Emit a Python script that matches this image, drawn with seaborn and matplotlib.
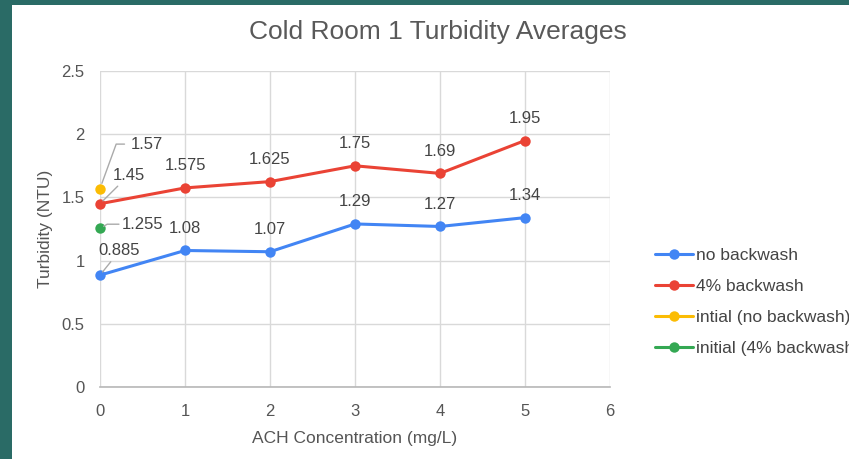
import matplotlib
matplotlib.use("Agg")
import matplotlib.pyplot as plt
import seaborn as sns
import pandas as pd
from matplotlib.patches import Rectangle
from matplotlib.lines import Line2D

conc = [0, 1, 2, 3, 4, 5]
no_backwash = [0.885, 1.08, 1.07, 1.29, 1.27, 1.34]
backwash_4 = [1.45, 1.575, 1.625, 1.75, 1.69, 1.95]
initial_no_x = [0]
initial_no = [1.57]
initial_4_x = [0]
initial_4 = [1.255]
series_names = ["no backwash", "4% backwash", "intial (no backwash)", "initial (4% backwash)"]
colors = ["#4285F4", "#EA4335", "#FBBC04", "#34A853"]

frames = [
    pd.DataFrame({"x": conc, "y": no_backwash, "s": series_names[0]}),
    pd.DataFrame({"x": conc, "y": backwash_4, "s": series_names[1]}),
    pd.DataFrame({"x": initial_no_x, "y": initial_no, "s": series_names[2]}),
    pd.DataFrame({"x": initial_4_x, "y": initial_4, "s": series_names[3]}),
]
df = pd.concat(frames, ignore_index=True)

sns.set_theme(style="white")
plt.rcParams["font.family"] = ["Liberation Sans", "DejaVu Sans"]

fig = plt.figure(figsize=(8.49, 4.59), dpi=100)
fig.patch.set_facecolor("#2a6b66")
fig.patches.append(Rectangle((12 / 849, 0), 1, (459 - 5) / 459, transform=fig.transFigure,
                             facecolor="white", edgecolor="none", zorder=-10))
ax = fig.add_axes([100 / 849, (459 - 387) / 459, 510 / 849, 316 / 459])
ax.set_zorder(1)
ax.set_facecolor("white")

palette = dict(zip(series_names, colors))
sns.lineplot(data=df, x="x", y="y", hue="s", palette=palette, marker="o", markersize=7.5,
             markeredgewidth=0, linewidth=2.2, ax=ax, legend=False, zorder=3, clip_on=False)

ax.set_xlim(0, 6)
ax.set_ylim(0, 2.5)
ax.set_xticks(range(0, 7))
ax.set_yticks([0, 0.5, 1, 1.5, 2, 2.5])
ax.set_yticklabels(["0", "0.5", "1", "1.5", "2", "2.5"])
ax.grid(True, color="#d9d9d9", linewidth=1)
ax.set_axisbelow(True)
for s in ["top", "right", "left"]:
    ax.spines[s].set_visible(False)
ax.spines["bottom"].set_color("#b7b7b7")
ax.spines["bottom"].set_linewidth(1.2)
ax.tick_params(axis="both", length=0, labelsize=12, labelcolor="#555555")
ax.tick_params(axis="x", pad=12)
ax.tick_params(axis="y", pad=11)
ax.set_xlabel("ACH Concentration (mg/L)", fontsize=12.5, color="#555555", labelpad=9)
ax.set_ylabel("Turbidity (NTU)", fontsize=12.5, color="#555555", labelpad=6)
fig.text(438 / 849, 1 - 32 / 459, "Cold Room 1 Turbidity Averages", ha="center", va="center",
         fontsize=19, color="#595959")

lab_kw = dict(fontsize=12, color="#444444", ha="center", va="bottom", zorder=5)
for xv, yv in zip(conc[1:], no_backwash[1:]):
    ax.annotate(f"{yv:g}", (xv, yv), xytext=(0, 10.5), textcoords="offset points", **lab_kw)
for xv, yv in zip(conc[1:], backwash_4[1:]):
    ax.annotate(f"{yv:g}", (xv, yv), xytext=(0, 10.5), textcoords="offset points", **lab_kw)

arrow = dict(arrowstyle="-", color="#aaaaaa", lw=1, shrinkA=0, shrinkB=3)
# callouts at x=0
ax.annotate(f"{no_backwash[0]:g}", (conc[0], no_backwash[0]), xytext=(14, 12),
            textcoords="offset points", fontsize=12, color="#444444", ha="center", va="bottom",
            arrowprops=arrow, zorder=5)
ax.annotate(f"{initial_4[0]:g}", (initial_4_x[0], initial_4[0]), xytext=(16, 3),
            textcoords="offset points", fontsize=12, color="#444444", ha="left", va="center",
            arrowprops=dict(arrowstyle="-", color="#aaaaaa", lw=1, shrinkA=0, shrinkB=3,
                            connectionstyle="angle,angleA=0,angleB=30,rad=0"), zorder=5)
ax.annotate(f"{backwash_4[0]:g}", (conc[0], backwash_4[0]), xytext=(9, 15),
            textcoords="offset points", fontsize=12, color="#444444", ha="left", va="bottom",
            arrowprops=arrow, zorder=5)
ax.annotate(f"{initial_no[0]:g}", (initial_no_x[0], initial_no[0]), xytext=(22, 32),
            textcoords="offset points", fontsize=12, color="#444444", ha="left", va="center",
            arrowprops=dict(arrowstyle="-", color="#aaaaaa", lw=1, shrinkA=2, shrinkB=4,
                            connectionstyle="angle,angleA=0,angleB=70,rad=0"), zorder=5)

handles = [Line2D([0], [0], color=c, lw=2.2, marker="o", markersize=7.5, markeredgewidth=0)
           for c in colors]
leg = fig.legend(handles, series_names, loc="center left", bbox_to_anchor=(655 / 849, 1 - 302 / 459),
                 frameon=False, fontsize=12.5, handlelength=2.2, labelspacing=0.92,
                 handletextpad=0.15, borderaxespad=0, borderpad=0)
for t in leg.get_texts():
    t.set_color("#444444")

fig.savefig("out.png", dpi=100, facecolor=fig.get_facecolor())
